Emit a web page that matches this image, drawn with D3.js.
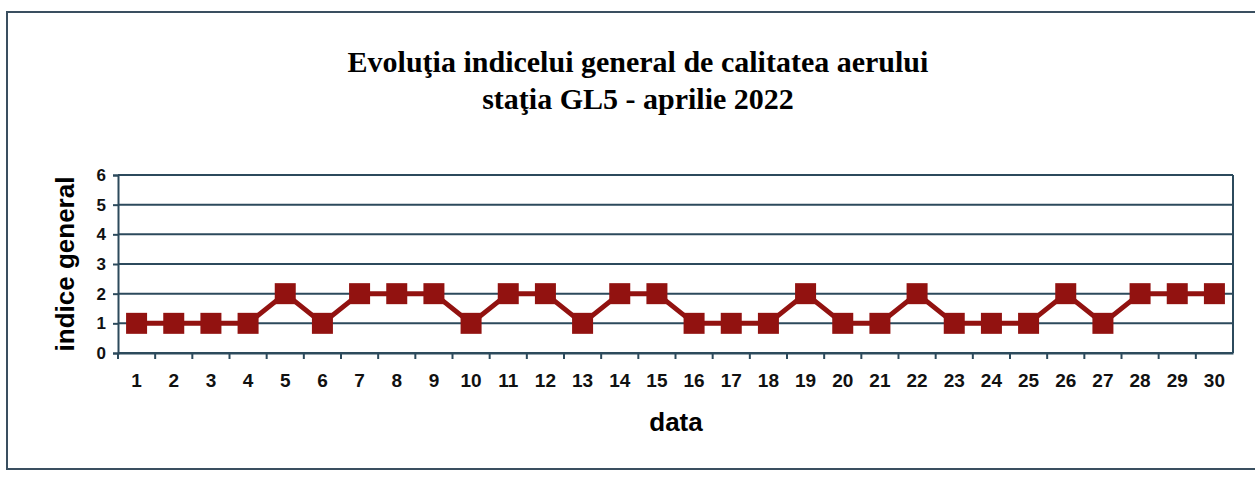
<!DOCTYPE html>
<html>
<head>
<meta charset="utf-8">
<script src="https://cdn.jsdelivr.net/npm/d3@7"></script>
<style>
  body { margin: 0; background: #fff; }
</style>
</head>
<body>
<script>
// chart data
var days = d3.range(1, 31)
var indexValues = [1,1,1,1,2,1,2,2,2,1,2,2,1,2,2,1,1,1,2,1,1,2,1,1,1,2,1,2,2,2]
var yTicks = [0,1,2,3,4,5,6]
var titleLines = ["Evoluţia indicelui general de calitatea aerului", "staţia GL5 - aprilie 2022"]

var W = 1255, H = 479
var margin = {left: 118, right: 22, top: 175, bottom: 126}

var svg = d3.select("body").append("svg")
    .attr("width", W)
    .attr("height", H)

// outer frame
svg.append("rect")
    .attr("x", 7).attr("y", 12)
    .attr("width", W + 10).attr("height", 457)
    .style("fill", "none")
    .style("stroke", "#3a4f60")
    .style("stroke-width", 2)

// title
svg.selectAll(".title").data(titleLines).enter().append("text")
    .attr("class", "title")
    .attr("x", 638)
    .attr("y", function(d, i) { return 72 + i * 37 })
    .attr("text-anchor", "middle")
    .style("font-family", "Liberation Serif, Times New Roman, serif")
    .style("font-weight", "bold")
    .style("font-size", "30px")
    .text(function(d) { return d })

var x = d3.scaleBand()
    .domain(days)
    .range([margin.left, W - margin.right])

var y = d3.scaleLinear()
    .domain([0, 6])
    .range([H - margin.bottom, margin.top])

var g = svg.append("g")

// gridlines
g.selectAll(".grid").data(yTicks).enter().append("line")
    .attr("x1", margin.left).attr("x2", W - margin.right)
    .attr("y1", function(d) { return y(d) })
    .attr("y2", function(d) { return y(d) })
    .style("stroke", "#2c4a5c")
    .style("stroke-width", 2)

// right edge of plot
g.append("line")
    .attr("x1", W - margin.right).attr("x2", W - margin.right)
    .attr("y1", y(6)).attr("y2", y(0))
    .style("stroke", "#2c4a5c")
    .style("stroke-width", 2)

// y axis
var yAxis = g.append("g")
    .attr("transform", "translate(" + margin.left + ",0)")
    .call(d3.axisLeft(y).tickValues(yTicks).tickFormat(d3.format("d")).tickSize(5).tickPadding(7))
yAxis.select(".domain").style("stroke", "#2c4a5c").style("stroke-width", 2)
yAxis.selectAll(".tick line").style("stroke", "#2c4a5c").style("stroke-width", 2)
yAxis.selectAll("text")
    .style("font-family", "Liberation Sans, Arial, sans-serif")
    .style("font-weight", "bold")
    .style("font-size", "17px")
    .style("fill", "#111")

// x axis, ticks between categories
var xAxis = g.append("g")
    .attr("transform", "translate(0," + y(0) + ")")
    .call(d3.axisBottom(x).tickSize(0).tickPadding(21))
xAxis.select(".domain").style("stroke", "#2c4a5c").style("stroke-width", 2)
xAxis.selectAll("text")
    .style("font-family", "Liberation Sans, Arial, sans-serif")
    .style("font-weight", "bold")
    .style("font-size", "19px")
    .style("fill", "#111")
g.selectAll(".xtick").data(days).enter().append("line")
    .attr("x1", function(d) { return x(d) })
    .attr("x2", function(d) { return x(d) })
    .attr("y1", y(0)).attr("y2", y(0) + 6)
    .style("stroke", "#2c4a5c")
    .style("stroke-width", 2)

// axis titles
svg.append("text")
    .attr("transform", "translate(74," + ((y(0) + y(6)) / 2) + ") rotate(-90)")
    .attr("text-anchor", "middle")
    .style("font-family", "Liberation Sans, Arial, sans-serif")
    .style("font-weight", "bold")
    .style("font-size", "26px")
    .text("indice general")

svg.append("text")
    .attr("x", 676).attr("y", 431)
    .attr("text-anchor", "middle")
    .style("font-family", "Liberation Sans, Arial, sans-serif")
    .style("font-weight", "bold")
    .style("font-size", "26px")
    .text("data")

// series line
var pts = days.map(function(d, i) { return [x(d) + x.bandwidth() / 2, y(indexValues[i])] })
g.append("path")
    .attr("d", d3.line()(pts))
    .style("fill", "none")
    .style("stroke", "#921210")
    .style("stroke-width", 5)

var s = 21
g.selectAll(".marker").data(pts).enter().append("rect")
    .attr("x", function(d) { return d[0] - s / 2 })
    .attr("y", function(d) { return d[1] - s / 2 })
    .attr("width", s).attr("height", s)
    .style("fill", "#921210")
</script>
</body>
</html>
